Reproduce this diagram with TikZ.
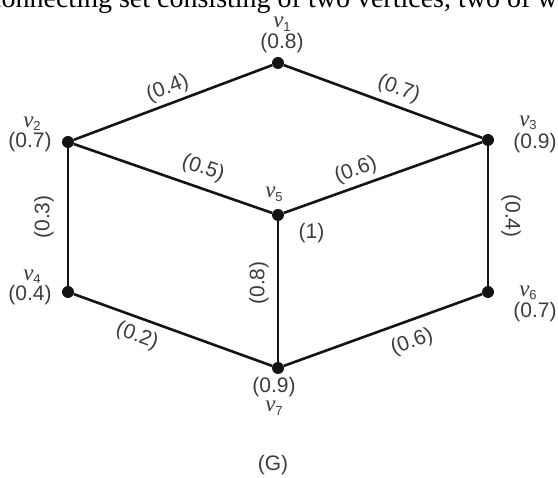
\documentclass[tikz,border=0pt]{standalone}
\usepackage{fontspec}
\setmainfont{Liberation Sans}
\newfontfamily\pagefont{Liberation Serif}
\usepackage{tikz}
\usetikzlibrary{positioning}
\definecolor{edgecolor}{RGB}{20,20,20}
\definecolor{lblcolor}{RGB}{60,60,60}
\newcommand{\vn}[1]{{\pagefont\itshape ν}\raisebox{-0.3ex}{\fontsize{13}{14}\selectfont #1}}

\begin{document}
\begin{tikzpicture}[x=1pt, y=-1pt,
    vtx/.style={
        circle, fill=edgecolor, inner sep=0pt,
        minimum size=12pt
    },
    edg/.style={
        line width=2.6pt, draw=edgecolor
    },
    val/.style={
        inner sep=0pt, text=lblcolor,
        font=\fontsize{21}{24}\selectfont
    },
    vname/.style={
        inner sep=0pt, text=lblcolor,
        font=\fontsize{23}{24}\selectfont
    },
    wgt/.style={
        inner sep=0pt, text=lblcolor, sloped,
        font=\fontsize{21}{24}\selectfont
    }
]
\useasboundingbox (0,0) rectangle (558,478);
\clip (0,0) rectangle (558,478);

% =========================
% PAGE TEXT (cut off)
% =========================
\node[anchor=base west, inner sep=0pt, font=\pagefont\fontsize{28}{32}\selectfont] (pagetxt)
  at (-11,8) {connecting set consisting of two vertices, two of which};

% =========================
% VERTICES
% =========================
\node[vtx] (v1) at (278,63) {};
\node[vtx] (v2) at (68,142) {};
\node[vtx] (v3) at (488,140) {};
\node[vtx] (v5) at (278,215) {};
\node[vtx] (v4) at (68,292) {};
\node[vtx] (v6) at (488,292) {};
\node[vtx] (v7) at (278,368) {};

% =========================
% VERTEX LABELS
% =========================
\node[val, above=4pt of v1, xshift=4pt] (v1val) {(0.8)};
\node[vname, above=1pt of v1val] (v1name) {\vn{1}};

\node[val, left=10pt of v2] (v2val) {(0.7)};
\node[vname, above=1pt of v2val, xshift=2pt] (v2name) {\vn{2}};

\node[val, right=19pt of v3, yshift=-3pt] (v3val) {(0.9)};
\node[vname, above=3pt of v3val, xshift=-7pt] (v3name) {\vn{3}};

\node[val, left=10pt of v4, yshift=-3pt] (v4val) {(0.4)};
\node[vname, above=1pt of v4val, xshift=2pt] (v4name) {\vn{4}};

\node[vname, above=7pt of v5, xshift=-4pt] (v5name) {\vn{5}};
\node[val, below right=4pt and 16pt of v5] (v5val) {(1)};

\node[val, right=19pt of v6, yshift=-20pt] (v6val) {(0.7)};
\node[vname, above=2pt of v6val, xshift=-7pt] (v6name) {\vn{6}};

\node[val, below=3pt of v7, xshift=-4pt] (v7val) {(0.9)};
\node[vname, below=4pt of v7val] (v7name) {\vn{7}};

% =========================
% EDGES
% =========================
\draw[edg] (v2) -- (v1) node[wgt, midway, above=4pt] (e12) {(0.4)};
\draw[edg] (v1) -- (v3) node[wgt, pos=0.55, above=6pt] (e13) {(0.7)};
\draw[edg] (v2) -- (v5) node[wgt, pos=0.62, above=8pt] (e25) {(0.5)};
\draw[edg] (v5) -- (v3) node[wgt, pos=0.39, above=5pt] (e35) {(0.6)};
\draw[edg] (v4) -- (v2) node[wgt, midway, above=13pt] (e24) {(0.3)};
\draw[edg] (v3) -- (v6) node[wgt, allow upside down, midway, above=12pt] (e36) {(0.4)};
\draw[edg] (v7) -- (v5) node[wgt, pos=0.56, above=8pt] (e57) {(0.8)};
\draw[edg] (v4) -- (v7) node[wgt, pos=0.35, below=7pt] (e47) {(0.2)};
\draw[edg] (v7) -- (v6) node[wgt, pos=0.61, below=10pt] (e67) {(0.6)};

% =========================
% CAPTION
% =========================
\node[val] (cap) at (273,465) {(G)};

\end{tikzpicture}
\end{document}
